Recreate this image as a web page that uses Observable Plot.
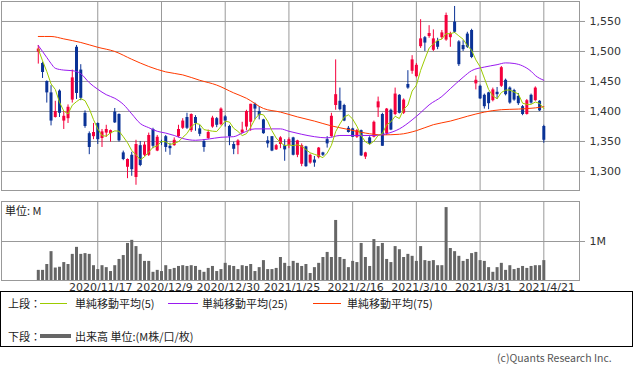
<!DOCTYPE html>
<html><head><meta charset="utf-8">
<script src="https://cdn.jsdelivr.net/npm/d3@7"></script>
<script src="https://cdn.jsdelivr.net/npm/@observablehq/plot@0.6"></script>
<style>
html,body{margin:0;padding:0;background:#fff;}
#wrap{position:relative;width:633px;height:371px;overflow:hidden;}
#wrap svg{position:absolute;left:0;}
.t{position:absolute;white-space:nowrap;line-height:14px;height:14px;color:#222;font-family:"Noto Sans CJK JP","DejaVu Sans",sans-serif;font-size:11px;}
.ln{position:absolute;height:0;}
</style></head><body><div id="wrap"></div>
<script>
// ---- data ----
const opens = [1499,1480,1450,1431,1390,1434,1384,1388,1419,1507,
1469,1397,1363,1358,1380,1355,1364,1363,1399,1395,
1331,1307,1327,1290,1343,1327,1327,1370,1334,1349,
1358,1342,1343,1358,1372,1390,1368,1390,1371,1350,
1355,1374,1388,1378,1391,1375,1345,1343,1364,1374,
1382,1412,1400,1386,1351,1358,1336,1345,1343,1343,
1356,1327,1312,1341,1314,1319,1323,1331,1353,1358,
1410,1417,1410,1372,1371,1357,1368,1324,1356,1357,
1406,1395,1363,1402,1395,1427,1397,1445,1467,1458,
1508,1523,1525,1502,1517,1523,1519,1523,1549,1516,
1510,1529,1535,1446,1442,1427,1431,1418,1432,1442,
1452,1439,1435,1425,1408,1395,1427,1418,1417,1375];
const highs = [1510,1482,1451,1443,1417,1436,1400,1411,1469,1510,
1478,1401,1366,1380,1381,1370,1377,1369,1405,1396,
1334,1321,1332,1352,1350,1349,1364,1372,1360,1352,
1360,1347,1356,1377,1388,1397,1396,1393,1377,1353,
1369,1392,1390,1406,1393,1377,1349,1353,1382,1402,
1412,1414,1408,1387,1358,1358,1345,1358,1353,1356,
1357,1352,1346,1342,1329,1325,1340,1332,1358,1397,
1486,1439,1412,1375,1372,1370,1369,1332,1358,1384,
1424,1397,1405,1404,1439,1428,1421,1468,1493,1480,
1553,1525,1543,1536,1522,1535,1564,1532,1575,1518,
1518,1532,1537,1459,1444,1429,1432,1439,1440,1475,
1454,1441,1437,1430,1410,1420,1429,1441,1418,1377];
const lows = [1479,1455,1414,1376,1389,1390,1370,1380,1414,1420,
1418,1372,1328,1353,1345,1340,1357,1349,1380,1349,
1318,1288,1292,1277,1308,1325,1325,1338,1333,1343,
1332,1327,1342,1356,1370,1370,1365,1367,1358,1332,
1353,1372,1373,1376,1374,1343,1328,1328,1363,1368,
1367,1386,1386,1362,1339,1333,1335,1338,1317,1338,
1326,1323,1308,1307,1312,1307,1321,1325,1339,1357,
1402,1401,1383,1364,1357,1355,1325,1320,1344,1356,
1390,1342,1360,1368,1393,1396,1395,1437,1462,1456,
1505,1500,1522,1500,1503,1520,1517,1507,1530,1475,
1500,1505,1488,1436,1420,1404,1403,1416,1420,1440,
1426,1412,1417,1410,1393,1394,1412,1417,1400,1347];
const closes = [1504,1465,1431,1384,1400,1397,1392,1407,1456,1430,
1422,1375,1340,1365,1353,1366,1370,1368,1381,1351,
1320,1320,1303,1345,1310,1344,1360,1342,1357,1348,
1340,1338,1352,1370,1384,1372,1395,1380,1362,1340,
1365,1389,1377,1404,1384,1358,1337,1351,1369,1400,
1412,1404,1393,1363,1346,1334,1343,1356,1336,1353,
1327,1351,1343,1308,1327,1314,1339,1327,1346,1392,
1428,1403,1384,1365,1357,1368,1326,1331,1345,1382,
1416,1342,1404,1369,1429,1397,1419,1439,1486,1477,
1521,1514,1530,1521,1507,1531,1560,1529,1532,1478,
1503,1507,1490,1452,1421,1408,1413,1436,1428,1473,
1428,1414,1419,1413,1395,1418,1414,1439,1401,1352];
const volumes = [0.26,0.26,0.41,0.74,0.32,0.34,0.46,0.41,0.67,0.85,
0.67,0.69,0.67,0.38,0.28,0.38,0.33,0.23,0.38,0.54,
0.64,0.95,1.03,0.87,0.67,0.49,0.49,0.21,0.26,0.23,
0.38,0.28,0.31,0.36,0.38,0.36,0.38,0.36,0.26,0.21,
0.31,0.36,0.23,0.28,0.44,0.38,0.36,0.28,0.38,0.36,
0.41,0.23,0.33,0.51,0.28,0.28,0.31,0.59,0.44,0.36,
0.49,0.44,0.36,0.41,0.18,0.33,0.44,0.59,0.72,0.59,
1.54,0.59,0.54,0.33,0.49,0.46,0.95,0.59,0.36,1.05,
0.87,0.95,0.54,0.46,0.87,0.79,0.59,0.67,0.62,0.49,
0.87,0.51,0.49,0.51,0.38,0.38,1.87,0.82,0.74,0.62,
0.49,0.54,0.69,0.72,0.51,0.49,0.33,0.21,0.33,0.44,
0.26,0.38,0.28,0.31,0.36,0.31,0.36,0.38,0.38,0.51];
const ma25Idx = [0,2,3,4,6,8,10,12,14,16,18,20,22,24,26,28,30,32,34,37,40,43,46,48,51,55,57,59,62,65,68,71,75,79,82,85,88,90,92,95,97,100,102,105,108,110,112,114,116,117,119];
const ma25Val = [1510,1490,1480,1472,1469,1468,1463,1448,1437,1428,1422,1412,1396,1380,1373,1367,1364,1360,1355,1352,1354,1357,1358,1364,1371,1371,1371,1367,1362,1358,1356,1360,1360,1360,1363,1371,1386,1398,1411,1425,1438,1457,1468,1474,1478,1481,1480,1476,1467,1460,1452];
const ma75Idx = [0,3,6,10,14,18,22,26,30,34,38,42,46,49,53,57,61,65,69,73,77,81,85,89,93,97,101,105,109,113,117,119];
const ma75Val = [1525,1525,1521,1515,1507,1500,1487,1475,1466,1461,1452,1444,1431,1422,1405,1399,1391,1384,1376,1370,1364,1361,1362,1368,1378,1384,1392,1399,1403,1404,1406,1408];
const tickIdx = [14,29,44,59,74,89,104,119];
const tickLabels = ["2020/11/17","2020/12/9","2020/12/30","2021/1/25","2021/2/16","2021/3/10","2021/3/31","2021/4/21"];
const priceTicks = [1300,1350,1400,1450,1500,1550];
const volTicks = [1];

// ---- build ----
const RED = "#F5003C", BLUE = "#0A3296", GRID = "#999";
const candles = opens.map((o,i)=>({i, open:o, high:highs[i], low:lows[i], close:closes[i], vol:volumes[i]}));
const up = candles.filter(d=>d.close>=d.open), dn = candles.filter(d=>d.close<d.open);
const ma25 = ma25Idx.map((i,k)=>({i, v:ma25Val[k]}));
const ma75 = ma75Idx.map((i,k)=>({i, v:ma75Val[k]}));
const xDom = [-8.66, 127.4];
const baseStyle = {fontFamily:"DejaVu Sans, sans-serif", fontSize:"11px", background:"none", overflow:"visible", color:"#222"};

const priceSvg = Plot.plot({
  width:633, height:192, marginTop:1, marginBottom:2, marginLeft:1, marginRight:54,
  x:{type:"linear", domain:xDom, axis:null},
  y:{domain:[1268.3,1583.3], axis:null},
  style: baseStyle,
  marks:[
    Plot.gridY(priceTicks,{stroke:GRID, strokeOpacity:1}),
    Plot.gridX(tickIdx,{stroke:GRID, strokeOpacity:1}),
    Plot.axisY(priceTicks,{anchor:"right", tickSize:5, tickPadding:5, tickFormat:d3.format(","), stroke:GRID, fill:"#333", label:null, fontSize:11}),
    Plot.ruleX(up,{x:"i", y1:"low", y2:"high", stroke:RED, strokeWidth:1}),
    Plot.ruleX(dn,{x:"i", y1:"low", y2:"high", stroke:BLUE, strokeWidth:1}),
    Plot.ruleX(up,{x:"i", y1:"open", y2:"close", stroke:RED, strokeWidth:3}),
    Plot.ruleX(dn,{x:"i", y1:"open", y2:"close", stroke:BLUE, strokeWidth:3}),
    Plot.line(ma75,{x:"i", y:"v", stroke:"#FF3A00", strokeWidth:1, curve:"monotone-x"}),
    Plot.line(ma25,{x:"i", y:"v", stroke:"#9A1AF0", strokeWidth:1, curve:"monotone-x"}),
    Plot.lineY(candles, Plot.windowY({k:5, anchor:"end", reduce:"mean"}, {x:"i", y:"close", stroke:"#9CCB00", strokeWidth:1})),
    Plot.frame({stroke:GRID})
  ]
});
priceSvg.style.top = "0px";

const volSvg = Plot.plot({
  width:633, height:100, marginTop:6, marginBottom:15, marginLeft:1, marginRight:54,
  x:{type:"linear", domain:xDom, axis:null},
  y:{domain:[0,2.026], axis:null},
  style: baseStyle,
  marks:[
    Plot.gridY(volTicks,{stroke:GRID, strokeOpacity:1}),
    Plot.gridX(tickIdx,{stroke:GRID, strokeOpacity:1}),
    Plot.ruleX(candles,{x:"i", y:"vol", stroke:"#666", strokeWidth:3}),
    Plot.axisY(volTicks,{anchor:"right", tickSize:5, tickPadding:5, tickFormat:d=>d+"M", stroke:GRID, fill:"#333", label:null, fontSize:11}),
    Plot.axisX(tickIdx,{anchor:"bottom", tickSize:0, tickPadding:3, tickFormat:i=>tickLabels[tickIdx.indexOf(i)], dx:3, fill:"#333", label:null, fontSize:11}),
    Plot.frame({stroke:GRID})
  ]
});
volSvg.style.top = "195px";

const wrap = document.getElementById("wrap");
wrap.appendChild(priceSvg);
wrap.appendChild(volSvg);

function txt(s, left, cy, extra){
  const d = document.createElement("div");
  d.className = "t"; d.textContent = s;
  d.style.left = left+"px"; d.style.top = (cy-7)+"px";
  if (extra) Object.assign(d.style, extra);
  wrap.appendChild(d); return d;
}
function line(x1, x2, y, color, w){
  const d = document.createElement("div");
  d.className = "ln";
  d.style.left = x1+"px"; d.style.width = (x2-x1)+"px";
  d.style.top = (y - w/2)+"px"; d.style.borderTop = w+"px solid "+color;
  wrap.appendChild(d);
}
txt("単位: M", 5, 210);
const box = document.createElement("div");
Object.assign(box.style,{position:"absolute", left:"0px", top:"291px", width:"631px", height:"54px", border:"1px solid #000"});
wrap.appendChild(box);
txt("上段：", 8, 303);
line(40, 67, 303, "#9CCB00", 1);
txt("単純移動平均(5)", 75, 303);
line(168, 198, 303, "#9A1AF0", 1);
txt("単純移動平均(25)", 202, 303);
line(313, 341, 303, "#FF3A00", 1);
txt("単純移動平均(75)", 347, 303);
txt("下段：", 8, 336);
line(40, 71, 336, "#666", 4);
txt("出来高 単位:(M株/口/枚)", 75, 336);
txt("(c)Quants Research Inc.", 497, 358, {color:"#555", fontSize:"10.5px"});
</script></body></html>
